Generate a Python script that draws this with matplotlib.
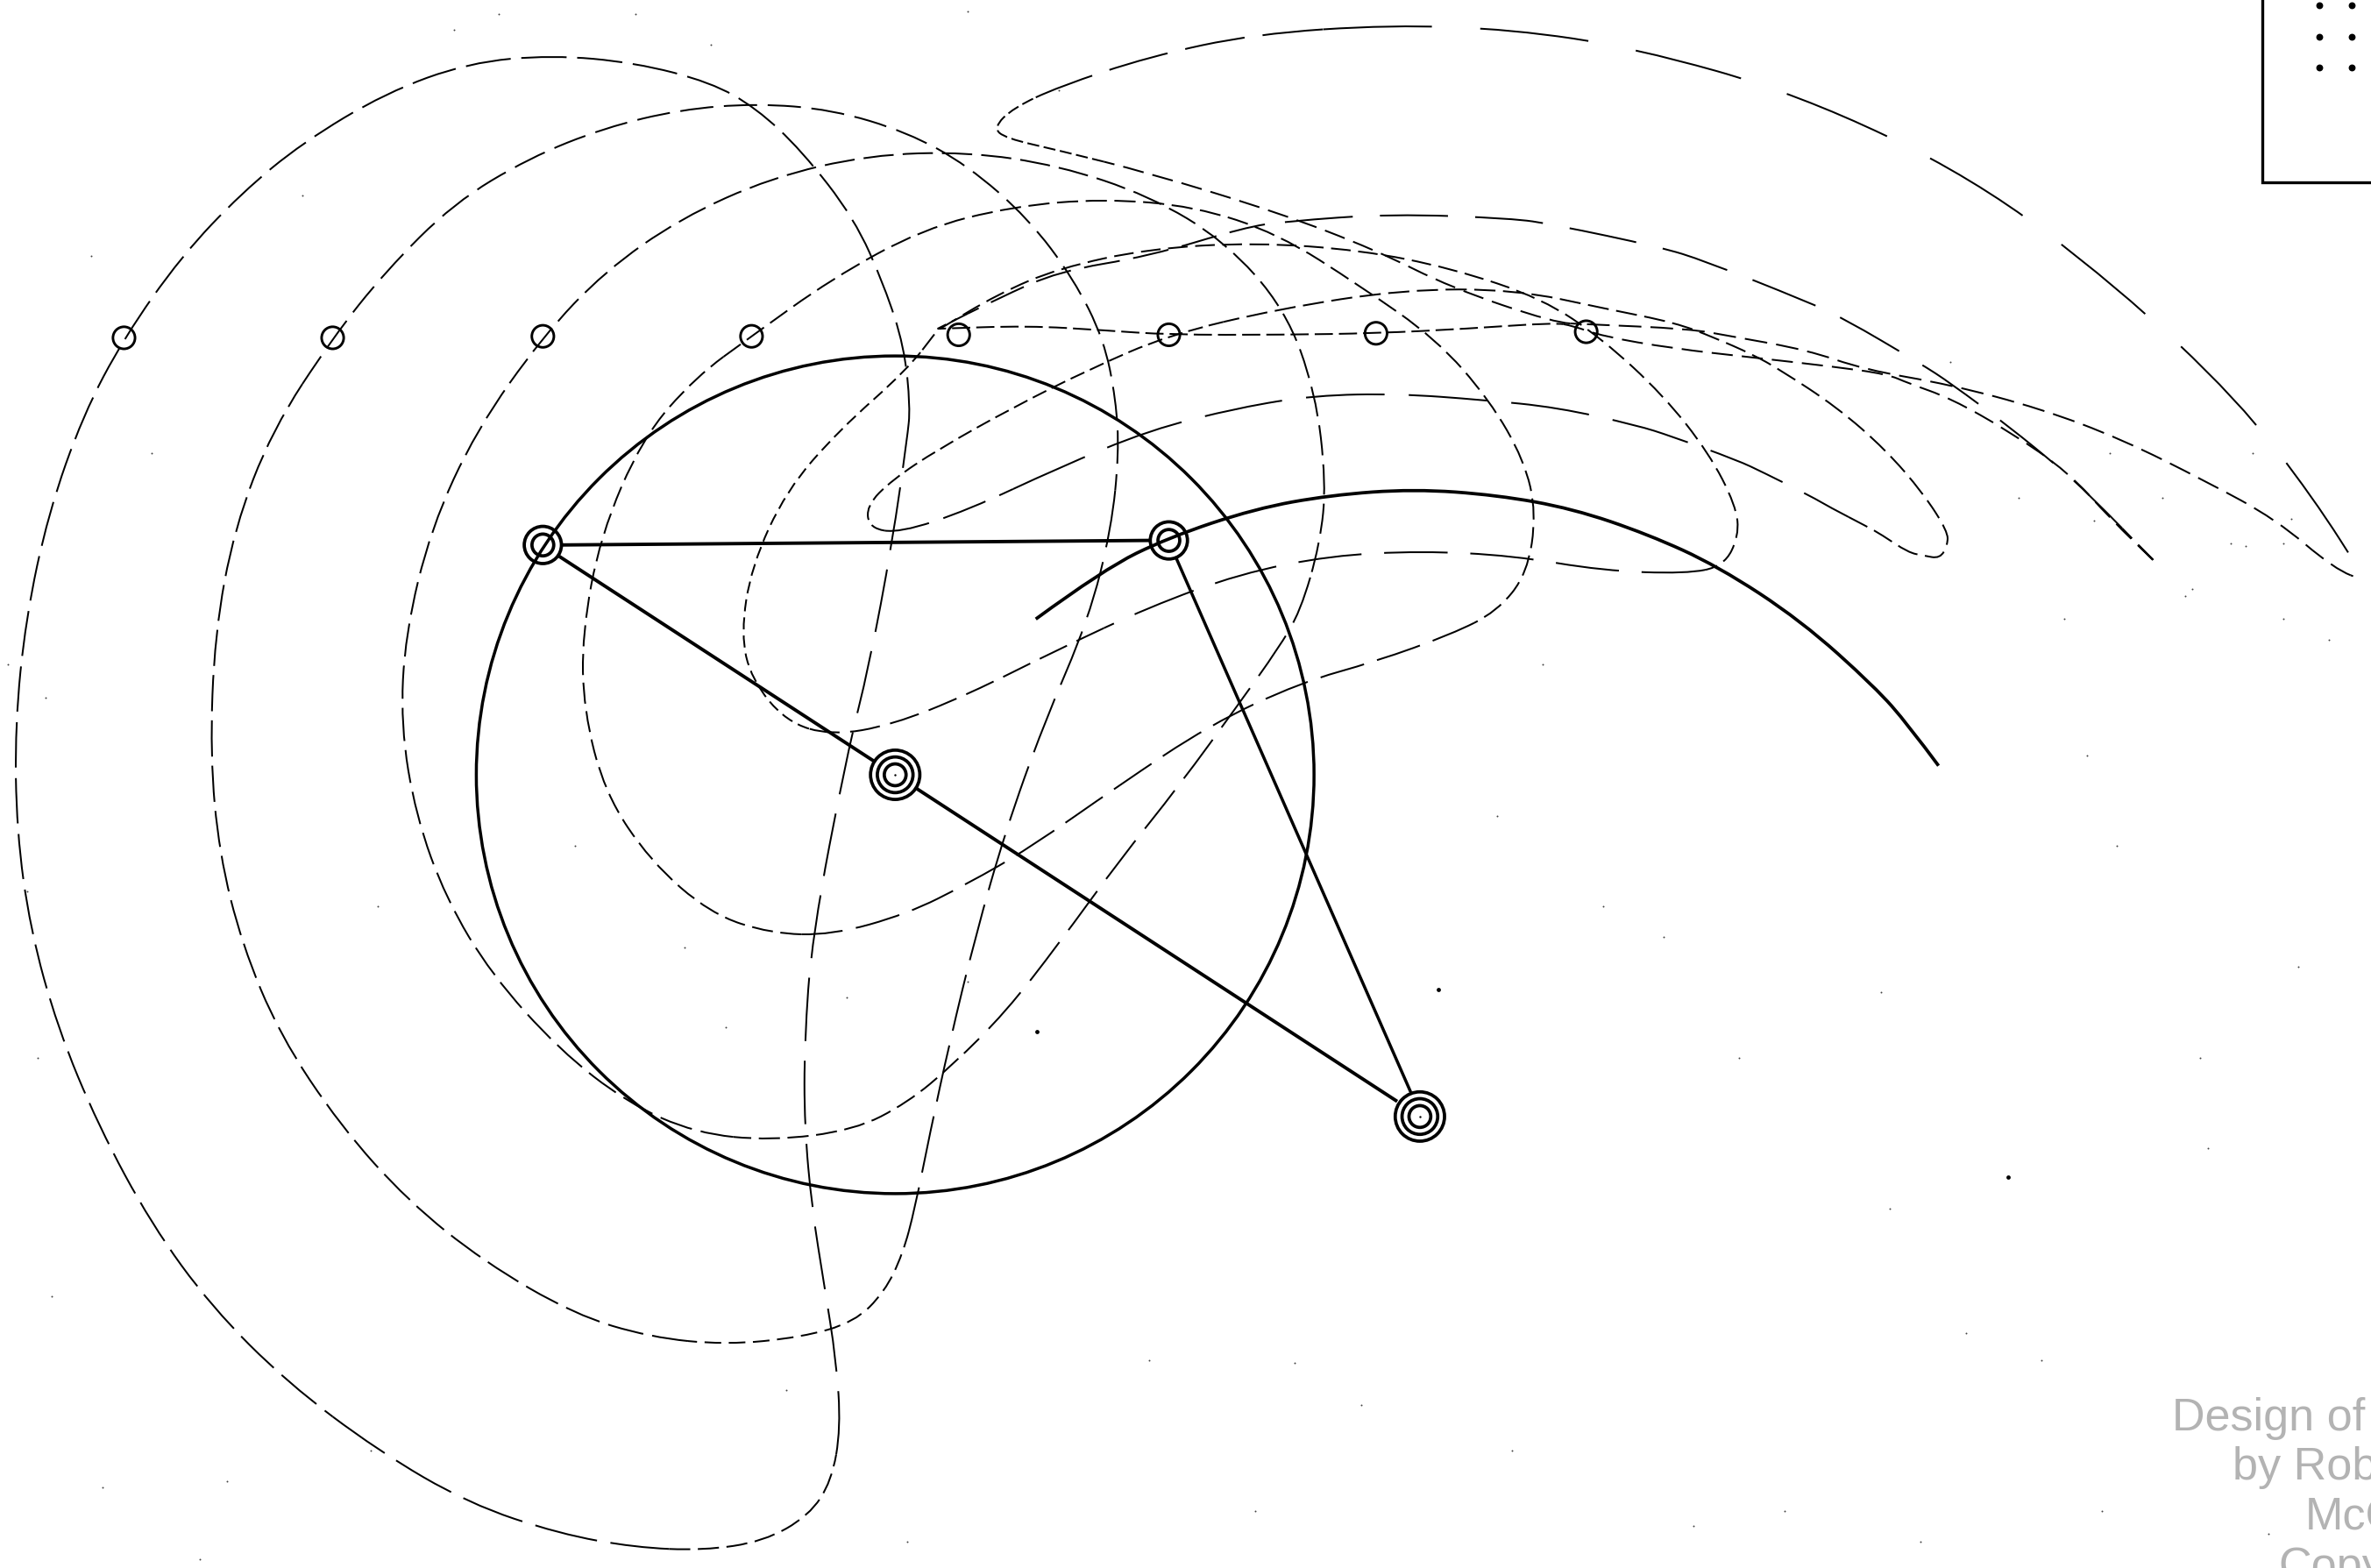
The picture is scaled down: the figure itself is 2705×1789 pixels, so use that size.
#!/usr/bin/python3
import matplotlib
matplotlib.use('Agg')
import matplotlib.pyplot as plt
from matplotlib.path import Path
from matplotlib.patches import PathPatch, Circle

# everything, x to the right, y downwards
# each curve is closed, its pieces differ only in dash length
# outer curve
c1_top = [(602,270),(598,230),(585,190),(565,145),(530,100),(500,72),(470,55),(420,42),(365,37),(310,42),(255,62),(200,95),(160,128),(120,170),(82,224),(55,275),(32,340),(17,410),(10,480),(11,550),(20,615),(38,680),(65,745),(100,810),(140,865),(190,915)]
c1_bottom = [(250,960),(310,995),(370,1015),(420,1024)]
c1_nose = [(465,1026),(505,1020),(535,1003),(550,980)]
c1_back = [(556,945),(553,900),(545,850),(537,800),(532,745),(532,690),(537,620),(560,500),(575,440),(590,360),(600,290)]
# second curve
c2_top = [(220,224),(255,180),(300,135),(350,105),(400,85),(450,73),(500,69),(550,73),(600,88),(640,110),(680,145),(710,185),(730,225),(738,265),(740,300)]
c2_back = [(735,350),(720,410),(690,480),(665,550),(645,620),(628,690),(615,750),(605,800)]
c2_nose = [(597,830),(585,855),(565,875),(530,885),(480,890)]
c2_left = [(430,885),(380,870),(320,835),(270,795),(225,745),(185,685),(160,625),(145,565),(139,500),(142,420),(155,350),(180,285)]
# third curve
c3_top = [(359,223),(400,180),(450,145),(510,118),(575,103),(640,101),(700,110),(760,130),(810,160),(850,205),(870,260),(877,320),(873,360)]
c3_back = [(860,405),(845,430),(820,465),(780,520),(740,570),(700,625),(665,670)]
c3_nose = [(630,705),(600,730),(565,748),(510,755)]
c3_left = [(460,750),(415,730),(370,695),(325,645),(295,595),(275,540),(265,480),(268,420),(285,350),(315,285)]
# fourth curve
c4_top = [(497,223),(550,185),(610,152),(670,137),(730,132),(790,137),(845,155),(900,190),(950,225),(985,265),(1008,305),(1016,340),(1010,380),(990,405)]
c4_back = [(960,420),(910,438),(860,452),(800,480),(740,520),(680,562),(640,585),(600,605),(550,619)]
c4_left = [(510,618),(470,605),(430,570),(400,525),(386,470),(385,420),(397,355),(425,290),(460,250)]
# fifth curve
c5_top = [(620,219),(620,219),(660,195),(700,178),(760,165),(830,161),(900,166),(960,178),(1020,198),(1060,225),(1100,262),(1130,300),(1148,335),(1150,355),(1140,375)]
c5_back = [(1115,380),(1060,378),(1000,368),(940,365),(880,368),(820,380),(760,402)]
c5_mid = [(700,430),(640,460),(590,480),(550,487)]
c5_left = [(520,478),(497,450),(490,420),(497,375),(520,325),(555,285),(600,245)]
# sixth curve, small loop on the left and thin loop on the right
c6_loop = [(773,222),(720,245),(670,270),(620,298),(590,318),(573,335),(575,350)]
c6_back = [(595,353),(640,338)]
c6_long = [(700,310),(760,285),(820,270),(870,262),(925,261),(980,265),(1030,270),(1083,282),(1105,289),(1149,305),(1166,313),(1198,329),(1210,336)]
c6_nose = [(1235,349),(1244,354),(1262,366),(1272,368),(1283,370),(1288,361),(1288,352),(1272,327),(1247,298),(1215,270),(1177,245),(1159,235),(1134,224),(1108,214),(1063,205),(1002,192),(928,192),(845,205)]
# seventh curve, runs out to the point near 1426,373
c7_lower = [(620,218),(620,218),(680,216),(730,219),(773,222),(848,222),(910,221),(970,218),(1028,214)]
c7_right = [(1040,216),(1060,223),(1106,231),(1159,237),(1212,243),(1248,248),(1262,254),(1290,264),(1329,286),(1368,313),(1396,344),(1426,373),(1426,373)]
c7_long = [(1381,327),(1362,310),(1329,283),(1290,254),(1270,241),(1219,211),(1195,200),(1127,173),(1098,164),(1027,149),(1000,145),(920,142),(850,147)]
c7_end = [(823,151),(760,170),(700,180),(660,198)]
# big curve with the loop at the top and the point at the far right
c8_upper = [(700,58),(760,38),(830,23)]
c8_long = [(920,17),(1000,20),(1080,32),(1190,63),(1305,118),(1400,190),(1480,265),(1530,330),(1565,385),(1565,385)]
c8_right = [(1544,377),(1505,344),(1459,319),(1403,291),(1350,271),(1290,255),(1233,245),(1195,232),(1145,223),(1117,218),(1049,215)]
c8_lower = [(1028,214),(960,191),(910,166),(845,141),(760,115)]
c8_loop = [(700,100),(665,92),(657,85),(670,72)]
# solid arc
arc = [(685,410),(730,377),(773,356),(830,337),(880,328),(935,324),(990,328),(1040,337),(1090,354),(1136,375),(1191,411),(1240,455),(1262,480),(1282,507)]

small_x = [82,220,359,497,634,773,910,1049]
small_y = [224,224,223,223,222,222,221,220]

box_dots_x = [1534,1534,1534,1555,1555,1555]
box_dots_y = [4,25,45,4,25,45]

speck_x = [30,453,951,686,1328,1244,856,245,68,1300,1540,1485,1515,1290,1020,1380,132,34,18,600,1180,1100,1455,1430,1490,1445,150,300,420,470,640,700,760,830,990,1060,1150,1250,1350,1400,1460,1520,25,60,100,5,200,330,520,900,1000,1120,1270,1390,1500,1541,250,380,480,560,640,1450,1395,1365,1510,1335,1385,1510,1475]
speck_y = [462,627,655,683,779,657,902,960,984,882,424,362,344,240,440,500,1032,858,590,1020,1000,620,700,330,300,395,980,20,10,30,8,60,900,1000,540,600,700,800,900,560,760,640,700,170,300,440,130,10,920,930,960,1010,1020,1000,1015,971,600,560,680,660,650,390,300,410,410,330,345,360,360]

text_lines = ['Design of','by Rob','McC','Copy']
text_x = [1436.5,1476.5,1524.6,1507]
text_y = [946,978.6,1011.6,1044.6]

plt.rcParams['lines.scale_dashes'] = False
plt.rcParams['font.family'] = ['Liberation Sans','DejaVu Sans']

U = 1.242   # picture units to points

def mid(a, b):
    return ((a[0]+b[0])/2.0, (a[1]+b[1])/2.0)

def draw_closed(ax, pieces, lw=1.45):
    # read points are quadratic controls, the midpoints lie on the curve
    pts = [p for piece, dash in pieces for p in piece]
    n = len(pts)
    start = 0
    for piece, dash in pieces:
        verts = [mid(pts[start-1], pts[start])]
        codes = [Path.MOVETO]
        for i in range(start, start+len(piece)):
            verts += [pts[i], mid(pts[i], pts[(i+1) % n])]
            codes += [Path.CURVE3, Path.CURVE3]
        ax.add_patch(PathPatch(Path(verts, codes), fill=False, edgecolor='black', lw=lw,
                               linestyle=(0, (dash[0]*U, dash[1]*U)), capstyle='butt'))
        start += len(piece)

def draw_open(ax, pts, lw):
    verts = [pts[0]]
    codes = [Path.MOVETO]
    for i in range(1, len(pts)-1):
        end = pts[-1] if i == len(pts)-2 else mid(pts[i], pts[i+1])
        verts += [pts[i], end]
        codes += [Path.CURVE3, Path.CURVE3]
    ax.add_patch(PathPatch(Path(verts, codes), fill=False, edgecolor='black', lw=lw, capstyle='butt'))

def rings(ax, x, y, radii, lw):
    for r in radii:
        ax.add_patch(Circle((x, y), r, fill=False, edgecolor='black', lw=lw))

fig = plt.figure(figsize=(27.05, 17.90), dpi=100)
ax = fig.add_axes([0, 0, 1, 1])
ax.set_xlim(0, 1568)
ax.set_ylim(1037.6, 0)
ax.axis('off')

draw_closed(ax, [(c1_top,(30,7)),(c1_bottom,(42,9)),(c1_nose,(14,5)),(c1_back,(42,13))])
draw_closed(ax, [(c2_top,(22,7)),(c2_back,(38,10)),(c2_nose,(11,5)),(c2_left,(24,6))])
draw_closed(ax, [(c3_top,(20,6)),(c3_back,(32,10)),(c3_nose,(14,5)),(c3_left,(22,6))])
draw_closed(ax, [(c4_top,(14,5)),(c4_back,(30,9)),(c4_left,(14,5))])
draw_closed(ax, [(c5_top,(13,5)),(c5_back,(42,15)),(c5_mid,(20,7)),(c5_left,(8,4))])
draw_closed(ax, [(c6_loop,(10,4)),(c6_back,(30,10)),(c6_long,(52,16)),(c6_nose,(14,5))])
draw_closed(ax, [(c7_lower,(12,4)),(c7_right,(14,6)),(c7_long,(45,18)),(c7_end,(24,9))])
draw_closed(ax, [(c8_upper,(40,12)),(c8_long,(72,32)),(c8_right,(15,6)),(c8_lower,(14,6)),(c8_loop,(8,3))])

draw_open(ax, arc, 2.7)
ax.add_patch(Circle((592, 513), 277, fill=False, edgecolor='black', lw=2.5))

# bars of the linkage, stopped at the ring edges
ax.plot([372,760], [361,358], color='black', lw=2.8, solid_capstyle='butt')
ax.plot([369,578], [368,504], color='black', lw=2.8, solid_capstyle='butt')
ax.plot([606,924], [522,729], color='black', lw=2.8, solid_capstyle='butt')
ax.plot([778,933], [370,723], color='black', lw=2.5, solid_capstyle='butt')

rings(ax, 359, 361, [12.3,7.2], 2.7)
rings(ax, 773, 358, [12.3,7.2], 2.7)
rings(ax, 592, 513, [16.3,11.8,7.2], 2.7)
rings(ax, 939, 739, [16.3,11.8,7.2], 2.7)
for x, y in zip(small_x, small_y):
    rings(ax, x, y, [7.3], 2.1)

# corner of the title block
ax.plot([1496,1496,1568], [0,121,121], color='black', lw=2.4, solid_joinstyle='miter')
ax.scatter(box_dots_x, box_dots_y, s=32, color='black', linewidths=0)

ax.scatter(speck_x, speck_y, s=2.0, color='#444444', linewidths=0)
ax.scatter([951,686,1328], [655,683,779], s=12, color='black', linewidths=0)
ax.scatter([592,939], [513,739], s=3, color='black', linewidths=0)

for t, x, y in zip(text_lines, text_x, text_y):
    ax.text(x, y, t, color='#b3b3b3', fontsize=37.5, ha='left', va='baseline')

fig.savefig('out.png', dpi=100)
